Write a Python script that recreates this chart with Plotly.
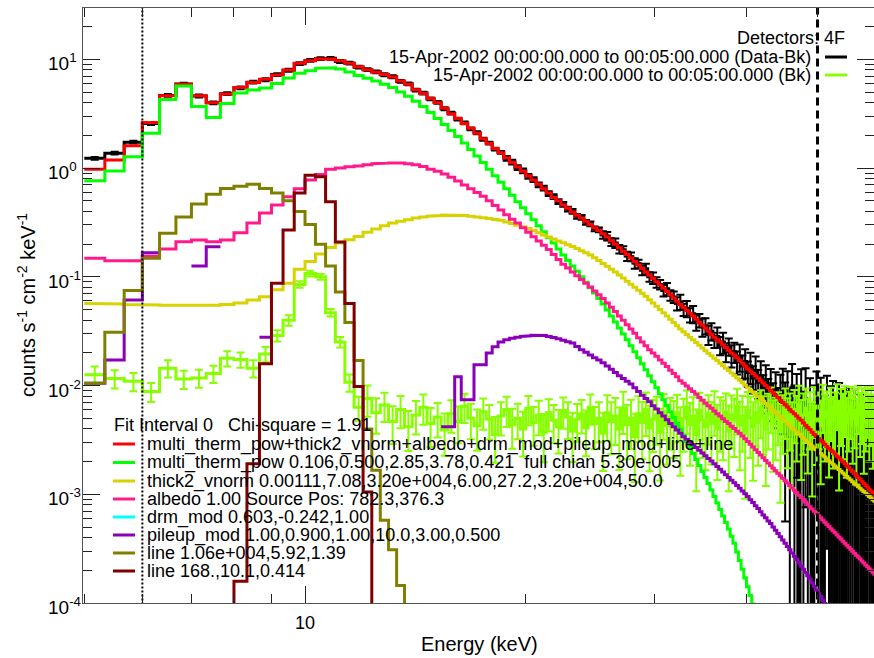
import math
import plotly.graph_objects as go

# ---------------- data ----------------
# RHESSI 1/3-keV energy bins, 5 - 60 keV (bin edges, keV)
energy_edges = [
    5.0, 5.333, 5.667, 6.0, 6.333, 6.667, 7.0, 7.333, 7.667, 8.0, 8.333, 8.667, 9.0, 9.333, 9.667,
    10.0, 10.333, 10.667, 11.0, 11.333, 11.667, 12.0, 12.333, 12.667, 13.0, 13.333, 13.667, 14.0, 14.333, 14.667,
    15.0, 15.333, 15.667, 16.0, 16.333, 16.667, 17.0, 17.333, 17.667, 18.0, 18.333, 18.667, 19.0, 19.333, 19.667,
    20.0, 20.333, 20.667, 21.0, 21.333, 21.667, 22.0, 22.333, 22.667, 23.0, 23.333, 23.667, 24.0, 24.333, 24.667,
    25.0, 25.333, 25.667, 26.0, 26.333, 26.667, 27.0, 27.333, 27.667, 28.0, 28.333, 28.667, 29.0, 29.333, 29.667,
    30.0, 30.333, 30.667, 31.0, 31.333, 31.667, 32.0, 32.333, 32.667, 33.0, 33.333, 33.667, 34.0, 34.333, 34.667,
    35.0, 35.333, 35.667, 36.0, 36.333, 36.667, 37.0, 37.333, 37.667, 38.0, 38.333, 38.667, 39.0, 39.333, 39.667,
    40.0, 40.333, 40.667, 41.0, 41.333, 41.667, 42.0, 42.333, 42.667, 43.0, 43.333, 43.667, 44.0, 44.333, 44.667,
    45.0, 45.333, 45.667, 46.0, 46.333, 46.667, 47.0, 47.333, 47.667, 48.0, 48.333, 48.667, 49.0, 49.333, 49.667,
    50.0, 50.333, 50.667, 51.0, 51.333, 51.667, 52.0, 52.333, 52.667, 53.0, 53.333, 53.667, 54.0, 54.333, 54.667,
    55.0, 55.333, 55.667, 56.0, 56.333, 56.667, 57.0, 57.333, 57.667, 58.0, 58.333, 58.667, 59.0, 59.333, 59.667,
    60.0]

# All spectra below are log10(counts s^-1 cm^-2 keV^-1), one value per bin.
# None = non-positive / not plotted.

# Data - Bk (black)
data_log10 = [
    0.09, 0.137, 0.238, 0.41, 0.668, 0.772, 0.663, 0.60, 0.684, 0.738,
    0.79, 0.812, 0.86, 0.90, 0.96, 0.99, 1.006, 1.009, 0.98, 0.965,
    0.928, 0.905, 0.885, 0.858, 0.84, 0.797, 0.775, 0.717, 0.69, 0.636,
    0.605, 0.546, 0.505, 0.45, 0.415, 0.36, 0.325, 0.265, 0.23, 0.175,
    0.145, 0.09, 0.055, 0.005, -0.025, -0.075, -0.105, -0.155, -0.185, -0.235,
    -0.262, -0.308, -0.333, -0.378, -0.398, -0.443, -0.452, -0.498, -0.512, -0.558,
    -0.567, -0.615, -0.625, -0.68, -0.69, -0.745, -0.752, -0.81, -0.815, -0.875,
    -0.88, -0.94, -0.925, -1.0, -1.01, -1.05, -1.07, -1.125, -1.11, -1.17,
    -1.185, -1.245, -1.23, -1.30, -1.29, -1.35, -1.34, -1.42, -1.40, -1.46,
    -1.45, -1.53, -1.50, -1.58, -1.55, -1.63, -1.60, -1.69, -1.64, -1.72,
    -1.69, -1.78, -1.73, -1.82, -1.78, -1.88, -1.82, -1.93, -1.86, -1.97,
    -1.91, -2.03, -1.96, -2.07, -2.0, -2.12, -2.04, -2.17, -2.07,
    -2.05, -2.25, -2.10, -2.35, -2.02, -2.30, -2.15, None, -2.08, -2.40,
    -2.12, -2.55, -2.20, None, -2.30, -2.15, -2.60, -2.25, None, -2.45,
    -2.20, -2.70, -2.35, -2.28, None, -2.50, -2.32, -2.80, -2.40, None,
    -2.45, -2.38, -2.90, -2.55, -2.42, None, -2.65, -2.48, -2.95, -2.60,
    None, -2.58, -2.70, -2.52, None, -2.75]
data_rel_err = [
    0.03] * 41 + [0.05] * 20 + [
    0.08, 0.09, 0.08, 0.10, 0.09, 0.08, 0.10, 0.09, 0.11, 0.09,
    0.10, 0.11, 0.10, 0.12, 0.11, 0.10, 0.12, 0.13, 0.11, 0.12,
    0.14, 0.16, 0.13, 0.17, 0.15, 0.18, 0.16, 0.14, 0.19, 0.17,
    0.20, 0.18, 0.16, 0.21, 0.19, 0.22, 0.20, 0.18, 0.23, 0.21,
    0.24, 0.28, 0.25, 0.30, 0.26, 0.32, 0.28, 0.34, 0.30, 0.36,
    0.33, 0.40, 0.35, 0.42, 0.38, 0.45, 0.40, 0.48,
    0.6, 0.9, 0.7, 1.1, 0.65, 1.0, 0.8, 1.5, 0.7, 1.2,
    0.9, 1.4, 0.85, 1.5, 1.0, 0.9, 1.6, 1.1, 1.5, 1.3,
    0.95, 1.8, 1.2, 1.1, 1.5, 1.4, 1.2, 2.0, 1.3, 1.5,
    1.5, 1.3, 2.2, 1.6, 1.4, 1.5, 1.8, 1.5, 2.4, 1.7,
    1.5, 1.6, 1.9, 1.5, 1.5, 2.0]

# Background (lime)
bk_log10 = [
    -1.90, -1.935, -1.96, -2.055, -1.84, -1.94, -1.93, -1.89, -1.75, -1.76,
    -1.84, -1.71, -1.54, -1.40, -1.07, -0.97, -1.0, -1.33, -1.6, -1.97,
    -2.2, -2.12, -2.25, -2.18, -2.33, -2.22, -2.38, -2.27, -2.20, -2.35,
    -2.29, -2.41, -2.26, -2.33, -2.19, -2.30, -2.37, -2.24, -2.31, -2.45,
    -2.28, -2.22, -2.36, -2.30, -2.40, -2.21, -2.34, -2.27, -2.43, -2.25,
    -2.32, -2.38, -2.23, -2.29, -2.42, -2.31, -2.26, -2.39, -2.20, -2.35,
    -2.30, -2.44, -2.25, -2.33, -2.28, -2.40, -2.21, -2.36, -2.30, -2.47,
    -2.26, -2.34, -2.22, -2.39, -2.31, -2.27, -2.43, -2.24, -2.37, -2.29,
    -2.33, -2.25, -2.41, -2.30, -2.20, -2.36, -2.28, -2.45, -2.23, -2.32,
    -2.38, -2.26, -2.35, -2.21, -2.40, -2.29, -2.33, -2.24, -2.42, -2.27,
    -2.31, -2.19, -2.36, -2.28, -2.44, -2.23, -2.30, -2.38, -2.25, -2.34,
    -2.21, -2.29, -2.40, -2.26, -2.18, -2.35, -2.31, -2.24, -2.42, -2.28,
    -2.20, -2.33, -2.26, -2.39, -2.22, -2.30, -2.17, -2.36, -2.27, -2.21,
    -2.34, -2.25, -2.40, -2.19, -2.31, -2.23, -2.37, -2.16, -2.29, -2.24,
    -2.35, -2.20, -2.32, -2.26, -2.15, -2.38, -2.22, -2.28, -2.18, -2.34,
    -2.25, -2.19, -2.30, -2.23, -2.36, -2.17, -2.27, -2.21, -2.33, -2.24,
    -2.18, -2.29, -2.22, -2.31, -2.20]
bk_rel_err = [
    0.19, 0.19, 0.19, 0.20, 0.18, 0.19, 0.19, 0.18, 0.16, 0.16,
    0.18, 0.16, 0.12, 0.11, 0.07, 0.06, 0.06, 0.08, 0.11, 0.18,
    0.25, 0.32, 0.36, 0.30, 0.38, 0.33, 0.40, 0.34, 0.31, 0.39,
    0.35, 0.42, 0.33, 0.37, 0.30, 0.36, 0.41, 0.32, 0.35, 0.45,
    0.34, 0.31, 0.40, 0.36, 0.44, 0.30, 0.39, 0.35, 0.47, 0.33,
    0.38, 0.43, 0.32, 0.37, 0.48, 0.38, 0.34, 0.45, 0.31, 0.42,
    0.40, 0.55, 0.45, 0.50, 0.46, 0.58, 0.42, 0.52, 0.48, 0.62,
    0.45, 0.54, 0.43, 0.60, 0.50, 0.47, 0.64, 0.45, 0.56, 0.50,
    0.54, 0.46, 0.62, 0.51, 0.43, 0.58, 0.49, 0.70, 0.46, 0.55,
    0.60, 0.48, 0.58, 0.44, 0.66, 0.52, 0.56, 0.47, 0.72, 0.51,
    0.55, 0.45, 0.62, 0.53, 0.75, 0.48, 0.57, 0.68, 0.51, 0.60,
    0.47, 0.55, 0.70, 0.53, 0.45, 0.64, 0.58, 0.51, 0.78, 0.55,
    0.49, 0.63, 0.54, 0.72, 0.51, 0.60, 0.47, 0.69, 0.57, 0.52,
    0.66, 0.54, 0.76, 0.49, 0.62, 0.56, 0.71, 0.47, 0.61, 0.53,
    0.68, 0.51, 0.64, 0.57, 0.45, 0.74, 0.54, 0.60, 0.49, 0.69,
    0.56, 0.50, 0.62, 0.55, 0.72, 0.47, 0.59, 0.53, 0.67, 0.57,
    0.50, 0.61, 0.54, 0.65, 0.52]

# Total model (red)
total_log10 = [
    -0.01, 0.074, 0.205, 0.42, 0.665, 0.77, 0.665, 0.601, 0.681, 0.742,
    0.788, 0.816, 0.856, 0.902, 0.963, 0.987, 1.003, 1.003, 0.987, 0.963,
    0.932, 0.905, 0.88, 0.86, 0.837, 0.80, 0.77, 0.72, 0.685, 0.64,
    0.60, 0.55, 0.50, 0.455, 0.41, 0.365, 0.32, 0.27, 0.225, 0.18,
    0.14, 0.095, 0.05, 0.01, -0.03, -0.07, -0.11, -0.15, -0.19, -0.23,
    -0.27, -0.30, -0.34, -0.37, -0.405, -0.435, -0.46, -0.49, -0.52, -0.55,
    -0.575, -0.605, -0.635, -0.668, -0.70, -0.732, -0.764, -0.796, -0.828, -0.86,
    -0.892, -0.924, -0.956, -0.986, -1.016, -1.046, -1.075, -1.105, -1.135, -1.165,
    -1.195, -1.224, -1.254, -1.28, -1.31, -1.335, -1.36, -1.39, -1.42, -1.445,
    -1.47, -1.50, -1.53, -1.555, -1.58, -1.60, -1.625, -1.65, -1.675, -1.70,
    -1.72, -1.745, -1.77, -1.795, -1.82, -1.845, -1.866, -1.89, -1.91, -1.93,
    -1.955, -1.977, -2.0, -2.02, -2.045, -2.067, -2.09, -2.11, -2.135, -2.156,
    -2.177, -2.198, -2.22, -2.24, -2.26, -2.28, -2.30, -2.32, -2.345, -2.365,
    -2.385, -2.405, -2.43, -2.45, -2.47, -2.49, -2.505, -2.52, -2.54, -2.56,
    -2.58, -2.595, -2.61, -2.63, -2.65, -2.665, -2.685, -2.70, -2.72, -2.74,
    -2.755, -2.775, -2.79, -2.81, -2.83, -2.845, -2.865, -2.88, -2.90, -2.92,
    -2.935, -2.955, -2.97, -2.99, -3.01]

# multi_therm_pow (green)
therm_log10 = [
    -0.117, -0.028, 0.104, 0.319, 0.630, 0.754, 0.566, 0.466, 0.593, 0.690,
    0.718, 0.736, 0.777, 0.828, 0.871, 0.895, 0.917, 0.923, 0.911, 0.883,
    0.851, 0.825, 0.80, 0.77, 0.74, 0.70, 0.66, 0.615, 0.565, 0.51,
    0.455, 0.40, 0.345, 0.29, 0.23, 0.17, 0.11, 0.05, -0.01, -0.07,
    -0.13, -0.19, -0.25, -0.31, -0.365, -0.42, -0.475, -0.53, -0.585, -0.64,
    -0.69, -0.745, -0.80, -0.85, -0.90, -0.95, -1.0, -1.05, -1.10, -1.15,
    -1.20, -1.25, -1.305, -1.36, -1.415, -1.47, -1.525, -1.58, -1.635, -1.69,
    -1.745, -1.80, -1.855, -1.91, -1.965, -2.02, -2.075, -2.13, -2.185, -2.24,
    -2.295, -2.35, -2.405, -2.46, -2.515, -2.57, -2.625, -2.68, -2.735, -2.79,
    -2.845, -2.90, -2.96, -3.02, -3.08, -3.14, -3.20, -3.26, -3.32, -3.385,
    -3.45, -3.53, -3.61, -3.69, -3.77, -3.85, -3.93, -4.01, -4.09, -4.17]

# thick2_vnorm (yellow)
thick_log10 = [
    -1.245, -1.25, -1.255, -1.26, -1.262, -1.265, -1.265, -1.262, -1.255, -1.24,
    -1.214, -1.184, -1.12, -1.06, -0.93, -0.86, -0.79, -0.73, -0.69, -0.66,
    -0.63, -0.59, -0.56, -0.53, -0.505, -0.49, -0.475, -0.46, -0.45, -0.443,
    -0.437, -0.433, -0.432, -0.433, -0.437, -0.443, -0.45, -0.458, -0.465, -0.472,
    -0.48, -0.495, -0.51, -0.525, -0.54, -0.555, -0.575, -0.595, -0.615, -0.635,
    -0.652, -0.67, -0.687, -0.705, -0.722, -0.74, -0.76, -0.78, -0.80, -0.825,
    -0.85, -0.877, -0.904, -0.93, -0.957, -0.984, -1.012, -1.04, -1.068, -1.096,
    -1.124, -1.152, -1.18, -1.21, -1.24, -1.27, -1.30, -1.33, -1.36, -1.39,
    -1.42, -1.45, -1.48, -1.505, -1.53, -1.555, -1.58, -1.605, -1.63, -1.655,
    -1.68, -1.703, -1.726, -1.75, -1.77, -1.795, -1.817, -1.84, -1.862, -1.885,
    -1.907, -1.93, -1.952, -1.975, -1.997, -2.02, -2.04, -2.06, -2.08, -2.10,
    -2.12, -2.145, -2.165, -2.185, -2.207, -2.228, -2.25, -2.27, -2.29, -2.31,
    -2.33, -2.35, -2.37, -2.39, -2.41, -2.43, -2.448, -2.466, -2.484, -2.502,
    -2.52, -2.538, -2.556, -2.574, -2.59, -2.607, -2.624, -2.641, -2.658, -2.675,
    -2.692, -2.709, -2.725, -2.741, -2.757, -2.773, -2.789, -2.805, -2.821, -2.837,
    -2.853, -2.869, -2.885, -2.90, -2.915, -2.93, -2.945, -2.96, -2.975, -2.99,
    -3.005, -3.02, -3.035, -3.05, -3.065]

# albedo (pink)
albedo_log10 = [
    -0.83, -0.853, -0.853, -0.81, -0.745, -0.678, -0.662, -0.678, -0.662, -0.595,
    -0.506, -0.414, -0.34, -0.264, -0.19, -0.11, -0.06, -0.01, 0.0, 0.012,
    0.02, 0.03, 0.04, 0.046, 0.047, 0.046, 0.04, 0.03, 0.015, -0.01,
    -0.03, -0.055, -0.085, -0.12, -0.155, -0.19, -0.225, -0.26, -0.30, -0.345,
    -0.386, -0.43, -0.47, -0.506, -0.55, -0.59, -0.632, -0.67, -0.71, -0.75,
    -0.795, -0.84, -0.885, -0.92, -0.955, -0.99, -1.025, -1.06, -1.095, -1.13,
    -1.165, -1.20, -1.24, -1.28, -1.32, -1.36, -1.40, -1.44, -1.48, -1.52,
    -1.56, -1.60, -1.635, -1.67, -1.70, -1.73, -1.765, -1.795, -1.825, -1.86,
    -1.89, -1.92, -1.955, -1.98, -2.005, -2.03, -2.055, -2.08, -2.11, -2.135,
    -2.16, -2.185, -2.21, -2.235, -2.26, -2.28, -2.305, -2.33, -2.35, -2.375,
    -2.395, -2.42, -2.44, -2.465, -2.49, -2.515, -2.54, -2.565, -2.59, -2.615,
    -2.64, -2.665, -2.69, -2.713, -2.737, -2.76, -2.783, -2.806, -2.829, -2.852,
    -2.875, -2.897, -2.92, -2.942, -2.964, -2.986, -3.008, -3.03, -3.051, -3.072,
    -3.093, -3.114, -3.135, -3.156, -3.177, -3.197, -3.217, -3.237, -3.257, -3.277,
    -3.297, -3.317, -3.336, -3.355, -3.374, -3.393, -3.412, -3.431, -3.45, -3.469,
    -3.488, -3.506, -3.524, -3.542, -3.56, -3.578, -3.596, -3.614, -3.632, -3.65,
    -3.667, -3.684, -3.701, -3.718, -3.735]

# pileup_mod (purple)
pileup_log10 = [
    -1.98, -1.766, -1.214, -0.78, None, None, -0.90, -0.724, None, None,
    None, -1.556, None, None, None, None, None, None, None, None,
    None, None, None, None, None, None, None, None, None, None,
    None, -2.38, -2.38, -1.92, -2.13, -2.13, -1.81, -1.81, -1.70, -1.644,
    -1.60, -1.58, -1.565, -1.555, -1.548, -1.542, -1.538, -1.536, -1.54, -1.548,
    -1.558, -1.57, -1.583, -1.597, -1.61, -1.64, -1.67, -1.695, -1.72, -1.745,
    -1.766, -1.79, -1.82, -1.85, -1.88, -1.91, -1.935, -1.96, -1.985, -2.02,
    -2.055, -2.09, -2.12, -2.15, -2.185, -2.215, -2.25, -2.28, -2.315, -2.35,
    -2.38, -2.41, -2.44, -2.47, -2.495, -2.52, -2.545, -2.57, -2.595, -2.62,
    -2.645, -2.67, -2.695, -2.72, -2.745, -2.77, -2.795, -2.82, -2.845, -2.87,
    -2.895, -2.92, -2.945, -2.97, -2.995, -3.02, -3.05, -3.075, -3.105, -3.13,
    -3.16, -3.19, -3.215, -3.245, -3.27, -3.30, -3.33, -3.36, -3.39, -3.42,
    -3.45, -3.48, -3.51, -3.54, -3.57, -3.60, -3.63, -3.66, -3.69, -3.72,
    -3.75, -3.78, -3.815, -3.845, -3.88, -3.91, -3.94, -3.975, -4.005, -4.04,
    -4.07]

# line 1.06e+004,5.92,1.39 (olive)
line1_log10 = [
    -1.98, -1.51, -1.125, -0.83, -0.60, -0.45, -0.33, -0.24, -0.187, -0.167,
    -0.15, -0.187, -0.23, -0.30, -0.40, -0.52, -0.70, -0.90, -1.14, -1.42,
    -1.77, -2.40, -2.78, -3.24, -3.51, -3.84]

# line 168.,10.1,0.414 (dark red)
line2_log10 = [
    None, None, None, None, None, None, None, None, None, -3.8,
    -2.72, -1.80, -1.06, -0.57, -0.23, -0.065, -0.08, -0.31, -0.68, -1.245,
    -2.01, -2.98]

# fit region markers (keV)
fit_interval_keV = [6.0, 50.0]

x_tick_major = [10]
x_tick_minor = [5, 6, 7, 8, 9, 20, 30, 40, 50]
y_tick_major = [1e-4, 1e-3, 1e-2, 1e-1, 1e0, 1e1]
y_tick_text = ["10<sup>-4</sup>", "10<sup>-3</sup>", "10<sup>-2</sup>", "10<sup>-1</sup>",
               "10<sup>0</sup>", "10<sup>1</sup>"]

legend_rows = [
    ("multi_therm_pow+thick2_vnorm+albedo+drm_mod+pileup_mod+line+line", "#FF0000"),
    ("multi_therm_pow 0.106,0.500,2.85,3.78,0.421\u00a0 full chian 5.30e-005", "#00FF00"),
    ("thick2_vnorm 0.00111,7.08,3.20e+004,6.00,27.2,3.20e+004,50.0", "#D8D200"),
    ("albedo 1.00 Source Pos: 782.3,376.3", "#FF1A8C"),
    ("drm_mod 0.603,-0.242,1.00", "#00FFFF"),
    ("pileup_mod 1.00,0.900,1.00,10.0,3.00,0.500", "#8A00B8"),
    ("line 1.06e+004,5.92,1.39", "#808000"),
    ("line 168.,10.1,0.414", "#800000"),
]

# ---------------- figure ----------------
W, H = 874, 658
L, R, T, B = 83, 0, 8, 55
PW, PH = W - L - R, H - T - B
FLOOR = 1e-8
FONT = "Liberation Sans, Arial, Helvetica, sans-serif"
Y_RANGE = [-4, 1.472]


def px(x):
    return (x - L) / PW


def py(y):
    return (T + PH - y) / PH


def step_path(vals, floor=None):
    xs, ys = [], []
    for i, v in enumerate(vals):
        lo, hi = energy_edges[i], energy_edges[i + 1]
        if v is None:
            if floor is None:
                xs.append(None)
                ys.append(None)
                continue
            val = floor
        else:
            val = 10 ** v
        xs += [lo, hi]
        ys += [val, val]
    if floor is not None and vals:
        xs.append(energy_edges[len(vals)])
        ys.append(floor)
    return xs, ys


def err_points(vals, rel):
    xc, yc, up, dn = [], [], [], []
    for i, (v, r) in enumerate(zip(vals, rel)):
        if v is None:
            continue
        val = 10 ** v
        lower = max(val * (1 - r), FLOOR)
        xc.append(0.5 * (energy_edges[i] + energy_edges[i + 1]))
        yc.append(val)
        up.append(val * r)
        dn.append(val - lower)
    return xc, yc, up, dn


fig = go.Figure()


def add_steps(vals, color, floor=None, width=3):
    xs, ys = step_path(vals, floor)
    fig.add_trace(go.Scatter(x=xs, y=ys, mode="lines", line=dict(color=color, width=width),
                             connectgaps=False, hoverinfo="skip", showlegend=False))


def add_errs(vals, rel, color):
    xc, yc, up, dn = err_points(vals, rel)
    fig.add_trace(go.Scatter(
        x=xc, y=yc, mode="markers", marker=dict(size=1, color="rgba(0,0,0,0)"),
        error_y=dict(type="data", symmetric=False, array=up, arrayminus=dn,
                     color=color, thickness=2, width=4),
        hoverinfo="skip", showlegend=False))


# data and background
add_steps(data_log10, "#000000", floor=FLOOR)
add_errs(data_log10, data_rel_err, "#000000")
add_steps(bk_log10, "#88FF00")
add_errs(bk_log10, bk_rel_err, "#88FF00")

# models
add_steps(total_log10, "#FF0000")
add_steps(therm_log10, "#00FF00", floor=FLOOR)
add_steps(thick_log10, "#D8D200")
add_steps(albedo_log10, "#FF1A8C")
add_steps(pileup_log10, "#8A00B8")
add_steps(line1_log10, "#808000", floor=FLOOR)
add_steps(line2_log10, "#800000", floor=FLOOR)

# fit interval markers
fig.add_trace(go.Scatter(x=[fit_interval_keV[0]] * 2, y=[1e-6, 1e3], mode="lines",
                         line=dict(color="black", width=2, dash="2px,2px"),
                         hoverinfo="skip", showlegend=False))
fig.add_trace(go.Scatter(x=[fit_interval_keV[1]] * 2, y=[1e-6, 1e3], mode="lines",
                         line=dict(color="black", width=3, dash="8px,5px"),
                         hoverinfo="skip", showlegend=False))

annotations = []
shapes = []


def label(x, y, text, anchor="left", size=18, **kw):
    annotations.append(dict(xref="paper", yref="paper", x=px(x), y=py(y), text=text,
                            showarrow=False, xanchor=anchor, yanchor="middle",
                            borderpad=0,
                            font=dict(size=size, color="black", family=FONT), **kw))


# y tick labels (left-aligned, as in the original)
for v, t in zip(y_tick_major, y_tick_text):
    yp = (math.log10(v) - Y_RANGE[0]) / (Y_RANGE[1] - Y_RANGE[0])
    annotations.append(dict(xref="paper", yref="paper", x=px(47), y=yp, yshift=-3,
                            text=t, showarrow=False, xanchor="left", yanchor="middle",
                            borderpad=0, font=dict(size=19, color="black", family=FONT)))

# bottom-left legend
label(113, 425, "Fit Interval 0\u00a0\u00a0\u00a0Chi-square = 1.91")
row_y = [444, 462.5, 481, 499, 517, 535, 553, 571]
for (txt, col), yy in zip(legend_rows, row_y):
    shapes.append(dict(type="line", xref="paper", yref="paper", x0=px(113), x1=px(135),
                       y0=py(yy), y1=py(yy), line=dict(color=col, width=3)))
    label(146, yy, txt)

# top-right legend
label(846, 38, "Detectors: 4F", anchor="right")
for txt, col, yy in [("15-Apr-2002 00:00:00.000 to 00:05:00.000 (Data-Bk)", "#000000", 57),
                     ("15-Apr-2002 00:00:00.000 to 00:05:00.000 (Bk)", "#88FF00", 75)]:
    label(812, yy, txt, anchor="right")
    shapes.append(dict(type="line", xref="paper", yref="paper", x0=px(825), x1=px(847),
                       y0=py(yy), y1=py(yy), line=dict(color=col, width=3)))

# axis titles
annotations.append(dict(xref="paper", yref="paper", x=px(26), y=py(305),
                        text="counts s<sup>-1</sup> cm<sup>-2</sup> keV<sup>-1</sup>",
                        textangle=-90, showarrow=False, xanchor="center", yanchor="middle",
                        font=dict(size=20, color="black", family=FONT)))
annotations.append(dict(xref="paper", yref="paper", x=px(479), y=py(644),
                        text="Energy (keV)", showarrow=False, xanchor="center",
                        yanchor="middle", font=dict(size=20, color="black", family=FONT)))

y_minor = [m * 10 ** k for k in range(-4, 2) for m in range(2, 10) if m * 10 ** k < 30]

axis_common = dict(showgrid=False, zeroline=False, showline=True, linecolor="#555555",
                   linewidth=1, mirror="allticks", ticks="inside", tickcolor="#222222",
                   tickwidth=1, automargin=False,
                   tickfont=dict(size=18, color="black", family=FONT))

fig.update_layout(
    width=W, height=H,
    margin=dict(l=L, r=R, t=T, b=B, autoexpand=False),
    paper_bgcolor="white", plot_bgcolor="white",
    font=dict(family=FONT, color="black"),
    xaxis=dict(type="log", range=[0.6972, 1.776], tickmode="array", tickvals=x_tick_major,
               ticktext=["10"], ticklen=17, ticklabelstandoff=3,
               minor=dict(tickmode="array", tickvals=x_tick_minor, ticks="inside", ticklen=9,
                          tickcolor="#222222", tickwidth=1, showgrid=False),
               **axis_common),
    yaxis=dict(type="log", range=Y_RANGE, tickmode="array", tickvals=y_tick_major,
               showticklabels=False, ticklen=17,
               minor=dict(tickmode="array", tickvals=y_minor, ticks="inside", ticklen=9,
                          tickcolor="#222222", tickwidth=1, showgrid=False),
               **axis_common),
    annotations=annotations,
    shapes=shapes,
    showlegend=False,
)

# the page's default 8px body margin would shift the figure; remove it
fig.write_html("out.html", config={"displayModeBar": False, "staticPlot": True},
               post_script="document.body.style.margin='0';document.body.style.overflow='hidden';")
